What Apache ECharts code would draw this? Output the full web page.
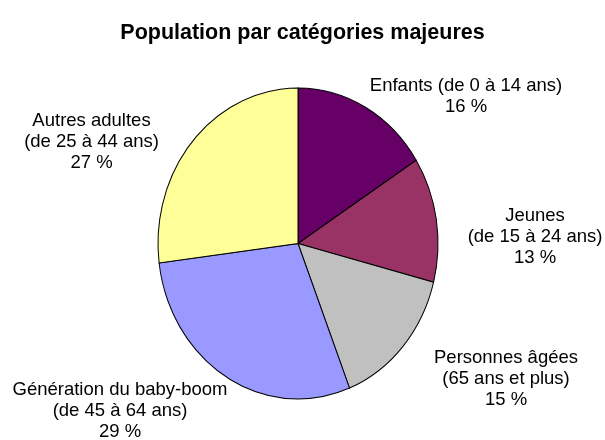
<!DOCTYPE html>
<html>
<head>
<meta charset="utf-8">
<script src="https://cdn.jsdelivr.net/npm/echarts@6/dist/echarts.min.js"></script>
<style>
  html, body { margin: 0; padding: 0; background: #fff; }
  #chart { width: 605px; height: 440px; }
</style>
</head>
<body>
<div id="chart"></div>
<script>
// Population par catégories majeures (parts en %)
const categories = [
  'Enfants (de 0 à 14 ans)',
  'Jeunes\n(de 15 à 24 ans)',
  'Personnes âgées\n(65 ans et plus)',
  'Génération du baby-boom\n(de 45 à 64 ans)',
  'Autres adultes\n(de 25 à 44 ans)'
];
const shares = [16, 13, 15, 29, 27];
const colors = ['#660066', '#993366', '#C0C0C0', '#9999FF', '#FFFF99'];

// layout: pie is slightly taller than wide in the original
const CX = 298, CY = 243.5, RX = 140, RY = 155.5;
// label block centres, relative to the pie centre
const labelOffsets = [[168, -147.5], [237, -7], [208, 135.5], [-178, 167.5], [-206.5, -101.5]];
const FONT = '"Liberation Sans", Arial, Helvetica, sans-serif';

const total = shares.reduce((a, b) => a + b, 0);

function renderSlice(params, api) {
  const i = params.dataIndex;
  let before = 0;
  for (let k = 0; k < i; k++) before += shares[k];
  const v = api.value(0);
  const start = -Math.PI / 2 + (before / total) * Math.PI * 2;
  const end = start + (v / total) * Math.PI * 2;
  const off = labelOffsets[i];
  return {
    type: 'group',
    children: [
      {
        type: 'sector',
        shape: { cx: CX, cy: CY, r0: 0, r: RX, startAngle: start, endAngle: end, clockwise: true },
        originX: CX,
        originY: CY,
        scaleY: RY / RX,
        style: { fill: colors[i], stroke: '#000', lineWidth: 1 }
      },
      {
        type: 'text',
        style: {
          text: categories[i] + '\n' + v + ' %',
          x: CX + off[0],
          y: CY + off[1],
          align: 'center',
          verticalAlign: 'middle',
          fill: '#000',
          font: '18.5px ' + FONT,
          lineHeight: 21
        }
      }
    ]
  };
}

const chart = echarts.init(document.getElementById('chart'));
chart.setOption({
  animation: false,
  title: {
    text: 'Population par catégories majeures',
    left: 'center',
    top: 17,
    textStyle: { fontFamily: FONT, fontSize: 21.5, fontWeight: 'bold', color: '#000' }
  },
  series: [{
    type: 'custom',
    coordinateSystem: 'none',
    renderItem: renderSlice,
    data: shares.map(v => [v])
  }]
});
</script>
</body>
</html>
